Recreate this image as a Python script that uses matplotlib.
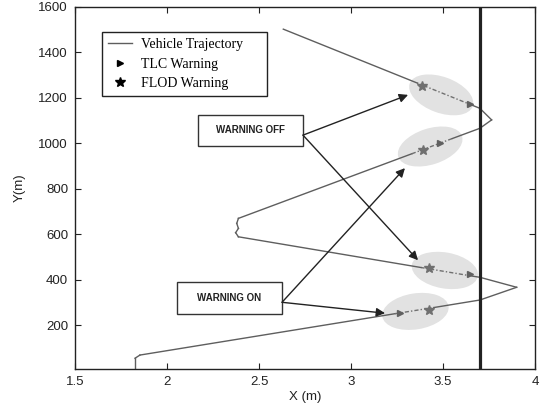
import numpy as np
import matplotlib
matplotlib.use("Agg")
import matplotlib.pyplot as plt
from matplotlib.patches import Ellipse
from matplotlib.transforms import ScaledTranslation
from matplotlib.lines import Line2D

# trajectoire du véhicule (x latéral, y longitudinal)
traj_x = [1.826, 1.826, 1.853, 3.24, 3.45, 3.70, 3.90, 3.70, 3.66, 3.38, 2.388, 2.373,
          2.388, 2.379, 2.388, 3.33, 3.55, 3.70, 3.764, 3.70, 3.66, 3.36, 2.632]
traj_y = [7, 54, 68, 250, 277, 310, 366, 410, 415, 453, 588, 606,
          625, 647, 669, 953, 1020, 1065, 1102, 1153, 1166, 1264, 1501]
# segments en avertissement (tracés en tiret-point)
warn_segs = [(3, 4), (8, 9), (15, 16), (20, 21)]

tlc_x = [3.266, 3.647, 3.484, 3.647]
tlc_y = [253, 424, 1000, 1172]
flod_x = [3.426, 3.426, 3.393, 3.384]
flod_y = [266, 449, 969, 1250]

# zones grisées autour des avertissements
zone_x = [3.35, 3.51, 3.43, 3.49]
zone_y = [260, 440, 985, 1212]
zone_ang = [9, -10, 18, -20]

lane_x = 3.7

plt.rcParams["font.family"] = ["Liberation Sans", "DejaVu Sans"]
fig = plt.figure(figsize=(5.49, 4.15), dpi=100)
ax = fig.add_axes([0.1366, 0.111, 0.838, 0.873])
ax.set_xlim(1.5, 4)
ax.set_ylim(7, 1600)

for cx, cy, a in zip(zone_x, zone_y, zone_ang):
    tr = fig.dpi_scale_trans + ScaledTranslation(cx, cy, ax.transData)
    ax.add_patch(Ellipse((0, 0), 0.67, 0.36, angle=a, transform=tr,
                         facecolor="#e2e2e2", edgecolor="none", zorder=1))

# trajectoire segment par segment
for i in range(len(traj_x) - 1):
    dash = (i, i + 1) in warn_segs
    ax.plot(traj_x[i:i + 2], traj_y[i:i + 2], color="#707070" if dash else "#5e5e5e",
            lw=1.0, ls=(0, (3, 1.5, 1, 1.5)) if dash else "-", zorder=2)

ax.plot(tlc_x, tlc_y, ls="none", marker=">", ms=4.5, color="#606060", zorder=3)
ax.plot(flod_x, flod_y, ls="none", marker="*", ms=7, color="#707070", zorder=3)

ax.axvline(lane_x, color="#222222", lw=2.3, zorder=4)

# boîtes de texte et flèches
def boite(x0, x1, y0, y1, txt):
    ax.add_patch(plt.Rectangle((x0, y0), x1 - x0, y1 - y0, facecolor="white",
                               edgecolor="#333333", lw=1.0, zorder=5))
    ax.text((x0 + x1) / 2, (y0 + y1) / 2, txt, ha="center", va="center",
            fontsize=7.0, fontweight="bold", color="#222222", zorder=6)

boite(2.168, 2.739, 987, 1124, "WARNING OFF")
boite(2.054, 2.625, 248, 389, "WARNING ON")

fleche = dict(arrowstyle="-|>", color="#222222", lw=1.0, mutation_scale=13,
              shrinkA=0, shrinkB=0)
for dst in [(3.31, 1212), (3.364, 485)]:
    ax.annotate("", xy=dst, xytext=(2.739, 1035), arrowprops=fleche, zorder=5)
for dst in [(3.293, 890), (3.185, 252)]:
    ax.annotate("", xy=dst, xytext=(2.625, 300), arrowprops=fleche, zorder=5)

ax.set_xticks([1.5, 2, 2.5, 3, 3.5, 4])
ax.set_xticklabels(["1.5", "2", "2.5", "3", "3.5", "4"])
ax.set_yticks(range(200, 1601, 200))
ax.tick_params(direction="in", top=True, right=True, length=4, width=0.8,
               labelsize=9.5, colors="#222222", pad=5)
for s in ax.spines.values():
    s.set_linewidth(1.0)
    s.set_color("#222222")
ax.set_xlabel("X (m)", fontsize=9.5, color="#222222", labelpad=2)
ax.set_ylabel("Y(m)", fontsize=9.5, color="#222222", labelpad=9)

poignees = [Line2D([], [], color="#5e5e5e", lw=1.0),
            Line2D([], [], ls="none", marker=">", ms=4.5, color="black"),
            Line2D([], [], ls="none", marker="*", ms=7, color="black")]
leg = ax.legend(poignees, ["Vehicle Trajectory     ", "TLC Warning", "FLOD Warning"],
                loc="upper left", bbox_to_anchor=(0.058, 0.930), fancybox=False,
                framealpha=1, edgecolor="#222222", handlelength=1.7,
                borderpad=0.45, labelspacing=0.45, handletextpad=0.7,
                borderaxespad=0, prop={"family": "Liberation Serif", "size": 10})
leg.get_frame().set_linewidth(1.0)

fig.savefig("out.png", dpi=100, facecolor="white")
